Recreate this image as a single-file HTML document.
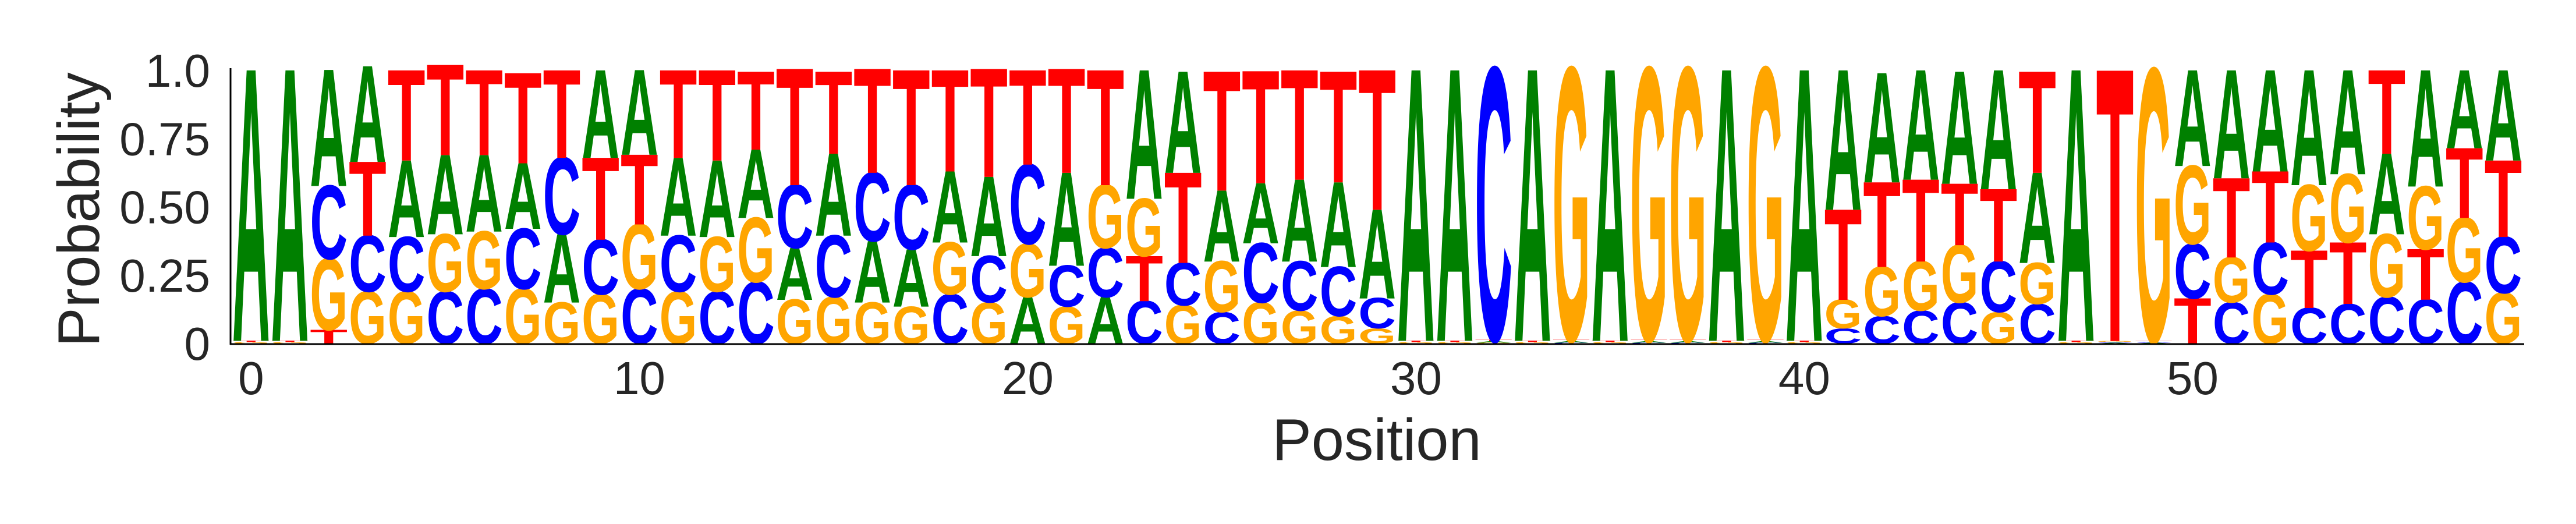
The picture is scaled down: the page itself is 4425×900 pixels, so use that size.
<!DOCTYPE html>
<html><head><meta charset="utf-8"><style>
html,body{margin:0;padding:0;background:#fff;}
svg{display:block;font-family:"Liberation Sans",sans-serif;}
</style></head><body>
<svg id="chart" width="4425" height="900" viewBox="0 0 4425 900" xmlns="http://www.w3.org/2000/svg">
<g id="letters"></g>
<line x1="396" y1="117" x2="396" y2="592" stroke="#000" stroke-width="3"/>
<line x1="395" y1="591" x2="4336" y2="591" stroke="#000" stroke-width="3"/>
<g id="yticks"></g>
<g id="xticks"></g>
<text transform="translate(170,360) rotate(-90)" text-anchor="middle" font-size="101" fill="#262626">Probability</text>
<text x="2365" y="790" text-anchor="middle" font-size="101" fill="#262626">Position</text>
</svg>
<script>
const probA=[0.99,0.99,0.425,0.35,0.28,0.29,0.28,0.24,0.25,0.32,0.31,0.285,0.28,0.25,0.19,0.3,0.225,0.21,0.26,0.29,0.17,0.34,0.17,0.47,0.37,0.26,0.22,0.3,0.31,0.325,0.99,0.99,0.005,0.99,0.005,0.99,0.005,0.005,0.99,0.005,0.99,0.51,0.4,0.4,0.41,0.435,0.33,0.99,0.003,0.003,0.35,0.395,0.37,0.42,0.38,0.295,0.425,0.285,0.33];
const probC=[0.0,0.0,0.267,0.205,0.2,0.19,0.2,0.22,0.28,0.2,0.2,0.205,0.19,0.225,0.23,0.225,0.25,0.235,0.18,0.17,0.29,0.15,0.18,0.155,0.155,0.115,0.217,0.18,0.18,0.11,0.0,0.0,0.99,0.0,0.003,0.0,0.003,0.003,0.0,0.003,0.0,0.055,0.1,0.12,0.15,0.185,0.145,0.0,0.003,0.003,0.2,0.15,0.19,0.13,0.145,0.17,0.16,0.225,0.205];
const probG=[0.005,0.005,0.26,0.19,0.19,0.21,0.21,0.2,0.15,0.18,0.236,0.19,0.2,0.235,0.16,0.17,0.15,0.135,0.19,0.15,0.195,0.135,0.23,0.21,0.14,0.185,0.15,0.12,0.1,0.055,0.005,0.005,0.003,0.005,0.99,0.005,0.99,0.99,0.005,0.99,0.005,0.105,0.18,0.18,0.21,0.115,0.15,0.005,0.003,0.99,0.285,0.165,0.18,0.24,0.25,0.23,0.23,0.235,0.185];
const probT=[0.005,0.005,0.05,0.27,0.33,0.33,0.31,0.33,0.32,0.3,0.255,0.32,0.33,0.285,0.425,0.3,0.38,0.42,0.37,0.395,0.345,0.38,0.42,0.165,0.33,0.435,0.41,0.4,0.405,0.51,0.005,0.005,0.005,0.005,0.005,0.005,0.005,0.005,0.005,0.005,0.005,0.33,0.31,0.3,0.225,0.265,0.37,0.005,0.99,0.003,0.165,0.29,0.26,0.21,0.225,0.305,0.185,0.255,0.28];
const yTicks=[0,0.25,0.5,0.75,1.0];
const yTickLabels=["0","0.25","0.50","0.75","1.0"];
const xTicks=[0,10,20,30,40,50];

const NS="http://www.w3.org/2000/svg";
const X0=398, SLOT=66.7, Y0=590, YH=469;
const xs=i=>X0+SLOT*i;
const ys=v=>Y0-YH*v;
const colors={A:"#008000",C:"#0000ff",G:"#ffa500",T:"#ff0000"};
const CAP=68.8;
const gL=document.getElementById('letters');
for(let i=0;i<probA.length;i++){
  const items=[["A",probA[i]],["C",probC[i]],["G",probG[i]],["T",probT[i]]].filter(d=>d[1]>0);
  items.sort((a,b)=>a[1]-b[1]);
  let cum=0;
  for(const [L,v] of items){
    const yb=ys(cum), yt=ys(cum+v), h=yb-yt;
    cum+=v;
    if(h<0.5) continue;
    const t=document.createElementNS(NS,'text');
    
    
    t.setAttribute('x',0);t.setAttribute('y',0);
    t.setAttribute('font-size',100);
    t.setAttribute('font-weight','bold');
    t.setAttribute('fill',colors[L]);
    t.setAttribute('textLength',SLOT*0.97);
    t.setAttribute('lengthAdjust','spacingAndGlyphs');
    t.setAttribute('transform','translate('+(xs(i)+SLOT*0.015)+','+yb+') scale(1,'+(h/CAP)+')');
    t.textContent=L;
    gL.appendChild(t);
  }
}
const gy=document.getElementById('yticks');
yTicks.forEach((v,k)=>{
  const t=document.createElementNS(NS,'text');
  
  
  t.setAttribute('x',361);t.setAttribute('y',ys(v)+28);
  t.setAttribute('text-anchor','end');t.setAttribute('font-size',80);t.setAttribute('fill','#262626');
  t.textContent=yTickLabels[k];gy.appendChild(t);
});
const gx=document.getElementById('xticks');
xTicks.forEach(v=>{
  const t=document.createElementNS(NS,'text');
  
  
  t.setAttribute('x',xs(v)+SLOT/2);t.setAttribute('y',677);
  t.setAttribute('text-anchor','middle');t.setAttribute('font-size',80);t.setAttribute('fill','#262626');
  t.textContent=String(v);gx.appendChild(t);
});
</script>
</body></html>
